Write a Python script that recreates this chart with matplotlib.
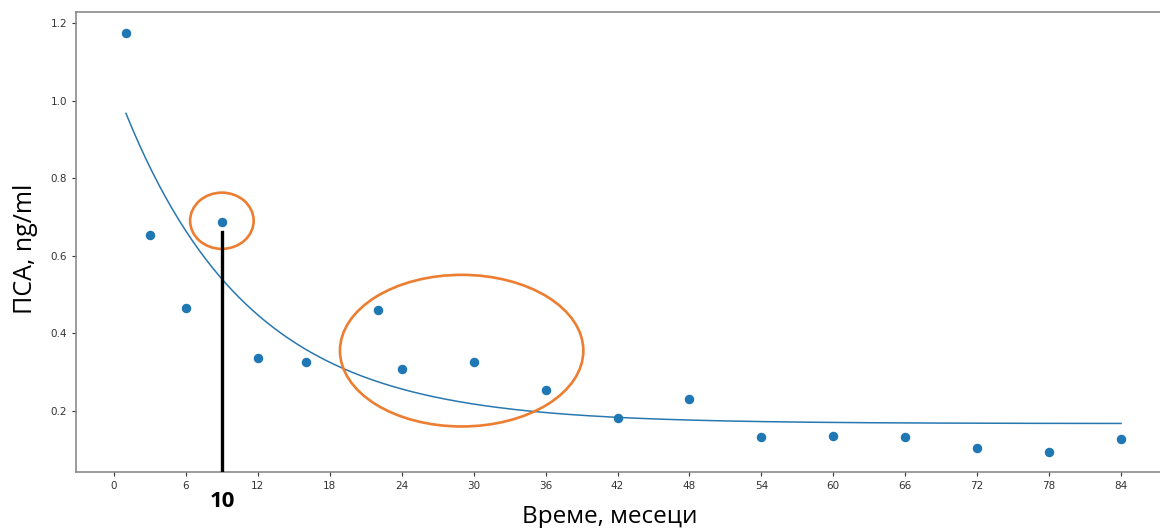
import matplotlib
matplotlib.use("Agg")
import matplotlib.pyplot as plt
import numpy as np
from matplotlib.patches import Ellipse

# measured PSA values (months, ng/ml)
months = [1, 3, 6, 9, 12, 16, 22, 24, 30, 36, 42, 48, 54, 60, 66, 72, 78, 84]
psa = [1.175, 0.653, 0.464, 0.688, 0.336, 0.325, 0.461, 0.307, 0.325, 0.253,
       0.182, 0.230, 0.133, 0.135, 0.133, 0.105, 0.094, 0.127]

# exponential fit  y = a * exp(-b * t) + c, parameters
fit_a = 0.880
fit_b = 0.0954
fit_c = 0.167

x_ticks = [0, 6, 12, 18, 24, 30, 36, 42, 48, 54, 60, 66, 72, 78, 84]
y_ticks = [0.2, 0.4, 0.6, 0.8, 1.0, 1.2]

marked_month = 9
marked_top = 0.661

fig = plt.figure(figsize=(11.6, 5.28), dpi=100)
ax = fig.add_axes([0.0655, 0.106, 0.944, 0.871])

t = np.linspace(months[0], months[-1], 300)
ax.plot(t, fit_a * np.exp(-fit_b * t) + fit_c, color="#2878b0", linewidth=1.1)
ax.scatter(months, psa, s=34, color="#1f77b4", zorder=3)

# annotations
orange = "#ed7d31"
ax.add_patch(Ellipse((9, 0.69), 5.3, 0.145, fill=False, edgecolor=orange, linewidth=1.9, zorder=4))
ax.add_patch(Ellipse((29.0, 0.355), 20.3, 0.391, fill=False, edgecolor=orange, linewidth=1.9, zorder=4))
ax.plot([marked_month, marked_month], [0.042, marked_top], color="black", linewidth=2.4, zorder=5)
ax.text(marked_month, -0.064, "10", transform=ax.get_xaxis_transform(), ha="center", va="center",
        fontsize=16, fontweight="bold", family="Open Sans")

ax.set_xlim(-3.17, 88.17)
ax.set_ylim(0.042, 1.228)
ax.set_xticks(x_ticks)
ax.set_yticks(y_ticks)
ax.set_yticklabels([f"{v:.1f}" for v in y_ticks])
ax.tick_params(labelsize=7.5, colors="#333333", length=3, width=0.8)
for s in ax.spines.values():
    s.set_color("#8a8a8a")
    s.set_linewidth(1.2)

fig.text(0.526, 0.02, "Време, месеци", ha="center", va="center", fontsize=17.5, family="Open Sans")
fig.text(0.022, 0.528, "ПСА, ng/ml", ha="center", va="center", rotation=90, fontsize=18, family="Open Sans")

fig.savefig("out.png", dpi=100)
